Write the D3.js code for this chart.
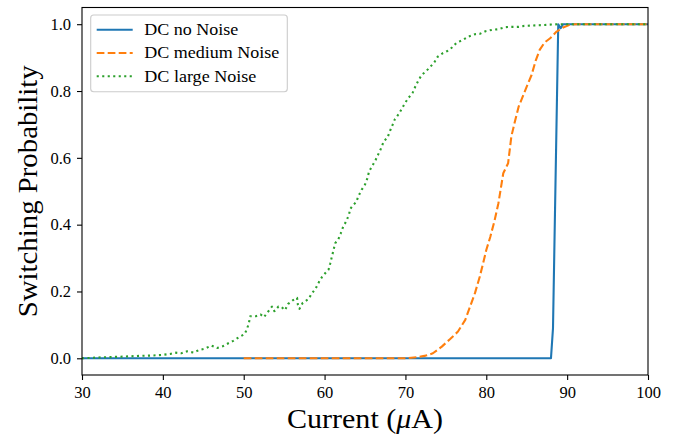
<!DOCTYPE html>
<html>
<head>
<meta charset="utf-8">
<script src="https://cdn.jsdelivr.net/npm/d3@7"></script>
<style>
  html, body { margin: 0; padding: 0; background: #fff; }
  svg { display: block; }
  text { font-family: "Liberation Serif", "DejaVu Serif", serif; fill: #000; }
</style>
</head>
<body>
<svg id="chart" width="685" height="439"></svg>
<script>
// Switching probability vs. bias current for three noise levels
const seriesNames = ["DC no Noise", "DC medium Noise", "DC large Noise"];
const seriesColors = ["#1f77b4", "#ff7f0e", "#2ca02c"];
const legendWidths = [94, 135, 112];

const noNoiseX = [30, 88.0, 88.25, 88.9, 89.2, 89.5, 100];
const noNoiseY = [0, 0, 0.09, 1.0, 0.988, 1.0, 1.0];

const mediumNoiseX = [50, 70, 71.4, 72.5, 73.4, 74.5, 75.5, 76.5, 77.4, 78.0, 78.6, 79.2, 79.6, 80.0, 80.5, 81.0, 81.5,
  82.1, 82.7, 83.1, 83.5, 84.0, 85.0, 85.6, 86.1, 86.6, 87.2, 87.9, 88.7, 89.5, 90.3, 91, 100];
const mediumNoiseY = [0, 0, 0.003, 0.008, 0.015, 0.035, 0.057, 0.08, 0.115, 0.155, 0.195, 0.245, 0.284, 0.324, 0.364, 0.41, 0.464,
  0.554, 0.584, 0.664, 0.705, 0.753, 0.813, 0.848, 0.89, 0.923, 0.945, 0.958, 0.978, 0.99, 0.998, 1.0, 1.0];

const largeNoiseX = [30, 32.6, 35.1, 36.8, 38.4, 39.9, 40.9, 41.5, 42.3, 43.0, 43.8, 44.5, 45.2, 46.0, 46.7, 47.4, 48.1, 48.7,
  49.4, 50.1, 50.4, 50.65, 50.8, 51.5, 52.1, 52.5, 53.0, 53.5, 53.8, 54.3, 54.65, 55.1, 55.5, 56.1, 56.6, 56.7, 56.9, 57.3,
  58.0, 58.4, 58.9, 59.3, 59.7, 60.2, 60.5, 60.7, 60.9, 61.1, 61.3, 61.7, 62.0, 62.3, 62.7, 63.0, 63.2, 63.5, 63.9, 64.2,
  64.6, 65.0, 65.3, 65.5, 65.9, 66.3, 66.65, 67.0, 67.3, 67.8, 68.1, 68.4, 68.7, 69.2, 69.6, 70.0, 70.4, 70.9, 71.2, 71.55,
  72.0, 72.5, 73.1, 73.6, 74.0, 74.6, 75.2, 75.8, 76.3, 77.1, 77.8, 78.6, 79.2, 79.9, 80.7, 81.5, 82.3, 83.1, 84.0, 84.7,
  86.5, 89.0, 100];
const largeNoiseY = [0, 0.003, 0.005, 0.007, 0.008, 0.01, 0.013, 0.017, 0.015, 0.021, 0.017, 0.025, 0.029, 0.038, 0.031, 0.036, 0.045, 0.052,
  0.063, 0.072, 0.087, 0.107, 0.126, 0.126, 0.131, 0.123, 0.139, 0.155, 0.141, 0.155, 0.154, 0.144, 0.163, 0.174, 0.181, 0.160, 0.148, 0.166,
  0.177, 0.193, 0.209, 0.228, 0.244, 0.258, 0.266, 0.284, 0.304, 0.323, 0.344, 0.356, 0.374, 0.394, 0.411, 0.429, 0.448, 0.458, 0.467, 0.486,
  0.505, 0.52, 0.539, 0.559, 0.576, 0.593, 0.611, 0.629, 0.648, 0.662, 0.681, 0.698, 0.716, 0.732, 0.749, 0.766, 0.78, 0.795, 0.812, 0.829,
  0.848, 0.858, 0.873, 0.887, 0.903, 0.913, 0.92, 0.931, 0.944, 0.953, 0.963, 0.97, 0.971, 0.979, 0.983, 0.985, 0.991, 0.992, 0.992, 0.995,
  0.997, 1.0, 1.0];

const xTicks = [30, 40, 50, 60, 70, 80, 90, 100];
const yTicks = [0.0, 0.2, 0.4, 0.6, 0.8, 1.0];

const xLabel = "Current (";
const yLabel = "Switching Probability";

const svg = d3.select("#chart");
const plot = { left: 82, right: 648, top: 7.5, bottom: 375 };

const x = d3.scaleLinear().domain([30, 100]).range([plot.left, plot.right]);
const y = d3.scaleLinear().domain([-0.05, 1.05]).range([plot.bottom, plot.top]);

const series = [
  { name: seriesNames[0], color: seriesColors[0], dash: null, xs: noNoiseX, ys: noNoiseY, w: legendWidths[0] },
  { name: seriesNames[1], color: seriesColors[1], dash: "7.7,3.3", xs: mediumNoiseX, ys: mediumNoiseY, w: legendWidths[1] },
  { name: seriesNames[2], color: seriesColors[2], dash: "2.1,3.4", xs: largeNoiseX, ys: largeNoiseY, w: legendWidths[2] }
];

svg.append("clipPath").attr("id", "plotclip")
  .append("rect")
  .attr("x", plot.left).attr("y", plot.top)
  .attr("width", plot.right - plot.left).attr("height", plot.bottom - plot.top);

const line = d3.line().x(d => x(d[0])).y(d => y(d[1]));

svg.append("g").attr("clip-path", "url(#plotclip)")
  .selectAll("path")
  .data(series)
  .join("path")
  .attr("d", s => line(s.xs.map((v, i) => [v, s.ys[i]])))
  .attr("fill", "none")
  .attr("stroke", s => s.color)
  .attr("stroke-width", 2.1)
  .attr("stroke-linejoin", "round")
  .attr("stroke-dasharray", s => s.dash);

// Axes
const xAxis = svg.append("g")
  .attr("transform", `translate(0,${plot.bottom})`)
  .call(d3.axisBottom(x).tickValues(xTicks).tickFormat(d3.format("d")).tickSize(5).tickPadding(6));
const yAxis = svg.append("g")
  .attr("transform", `translate(${plot.left},0)`)
  .call(d3.axisLeft(y).tickValues(yTicks).tickFormat(d3.format(".1f")).tickSize(5).tickPadding(6));

[xAxis, yAxis].forEach(g => {
  g.select(".domain").remove();
  g.selectAll(".tick line").attr("stroke", "#000").attr("stroke-width", 1.1);
  g.selectAll(".tick text").attr("font-size", 16.5).attr("font-family", "Liberation Serif");
});
xAxis.selectAll(".tick text").attr("dy", "0.72em");

// Frame
svg.append("rect")
  .attr("x", plot.left).attr("y", plot.top)
  .attr("width", plot.right - plot.left).attr("height", plot.bottom - plot.top)
  .attr("fill", "none").attr("stroke", "#000").attr("stroke-width", 1.1);

// Axis labels
const xl = svg.append("text")
  .attr("x", (plot.left + plot.right) / 2).attr("y", 428)
  .attr("text-anchor", "middle").attr("font-size", 27)
  .attr("textLength", 156).attr("lengthAdjust", "spacingAndGlyphs");
xl.append("tspan").text(xLabel);
xl.append("tspan").attr("font-style", "italic").text("μ");
xl.append("tspan").text("A)");

svg.append("text")
  .attr("transform", `translate(37,${(plot.top + plot.bottom) / 2}) rotate(-90)`)
  .attr("text-anchor", "middle").attr("font-size", 27)
  .attr("textLength", 252).attr("lengthAdjust", "spacingAndGlyphs")
  .text(yLabel);

// Legend
const legend = svg.append("g");
legend.append("rect")
  .attr("x", 90.7).attr("y", 15).attr("width", 196.6).attr("height", 76.7)
  .attr("rx", 3).attr("ry", 3)
  .attr("fill", "#fff").attr("fill-opacity", 0.8)
  .attr("stroke", "#cccccc").attr("stroke-width", 1.1);

const rowY = d3.scalePoint().domain(seriesNames).range([29.7, 76.3]);
const items = legend.selectAll("g.item").data(series).join("g").attr("class", "item");
items.append("line")
  .attr("x1", 96.7).attr("x2", 132.7)
  .attr("y1", s => rowY(s.name)).attr("y2", s => rowY(s.name))
  .attr("stroke", s => s.color).attr("stroke-width", 2.1)
  .attr("stroke-dasharray", s => s.dash);
items.append("text")
  .attr("x", 144.3).attr("y", s => rowY(s.name))
  .attr("dy", "0.33em")
  .attr("font-size", 16)
  .attr("textLength", s => s.w).attr("lengthAdjust", "spacingAndGlyphs")
  .text(s => s.name);
</script>
</body>
</html>
